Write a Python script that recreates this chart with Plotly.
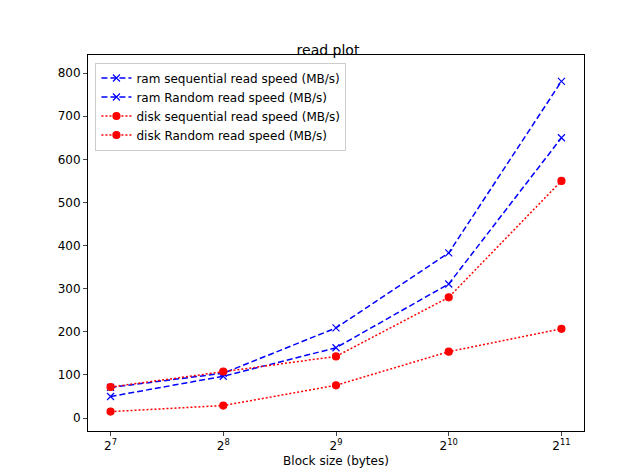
import plotly.graph_objects as go
import math

block_sizes = [128, 256, 512, 1024, 2048]
tick_labels = ["2<sup>7</sup>", "2<sup>8</sup>", "2<sup>9</sup>", "2<sup>10</sup>", "2<sup>11</sup>"]
ram_seq = [71, 104, 209, 383, 781]
ram_rand = [50, 97, 163, 311, 650]
disk_seq = [72, 108, 143, 280, 550]
disk_rand = [15, 29, 76, 154, 207]

fig = go.Figure()
def add(y, name, color, dash, symbol):
    fig.add_trace(go.Scatter(x=block_sizes, y=y, name=name, mode="lines+markers",
        line=dict(color=color, dash=dash, width=1.5),
        marker=dict(symbol=symbol, size=7, color=color,
                    line=dict(color=color, width=1.2))))
add(ram_seq, "ram sequential read speed (MB/s)", "blue", "6px,3px", "x-thin")
add(ram_rand, "ram Random read speed (MB/s)", "blue", "6px,3px", "x-thin")
add(disk_seq, "disk sequential read speed (MB/s)", "red", "2px,2px", "circle")
add(disk_rand, "disk Random read speed (MB/s)", "red", "2px,2px", "circle")

l2 = math.log10(2)
fig.update_layout(
    width=640, height=473, plot_bgcolor="white", paper_bgcolor="white",
    margin=dict(l=80, r=64, t=47, b=50, autoexpand=False),
    font=dict(family="DejaVu Sans", size=12, color="black"),
    title=dict(text="read plot", x=0.5, xanchor="center", y=1 - 42/473, yanchor="middle", font=dict(size=14)),
    xaxis=dict(type="log", range=[6.8*l2, 11.2*l2], tickvals=block_sizes, ticktext=tick_labels,
               showgrid=False, showline=True, linecolor="black", mirror=True, ticks="outside",
               ticklen=4, automargin=False,
               title=dict(text="Block size (bytes)", standoff=4, font=dict(size=12))),
    yaxis=dict(range=[-30, 842], tickvals=[0,100,200,300,400,500,600,700,800], showgrid=False,
               showline=True, linecolor="black", mirror=True, ticks="outside", ticklen=4,
               zeroline=False, automargin=False),
    legend=dict(x=0.015, y=0.98, xanchor="left", yanchor="top", bordercolor="#cccccc", borderwidth=1,
                bgcolor="rgba(255,255,255,0.8)", font=dict(size=12), tracegroupgap=0),
)
fig.write_html("out.html")
